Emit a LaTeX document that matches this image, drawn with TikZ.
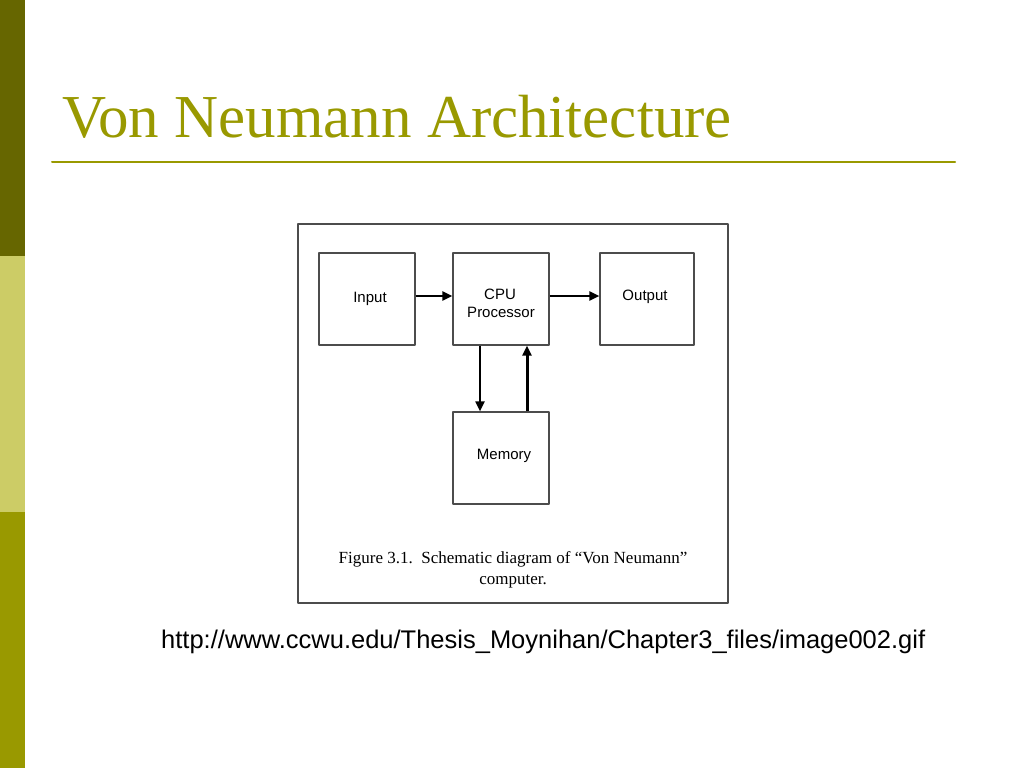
\documentclass[tikz,border=0pt]{standalone}
\usepackage{fontspec}
\setmainfont{Liberation Serif}
\newfontfamily\labelfont{Liberation Sans}
\usetikzlibrary{arrows.meta}
\definecolor{barDark}{HTML}{666600}
\definecolor{barLight}{HTML}{CCCC66}
\definecolor{barMid}{HTML}{999900}
\definecolor{titleCol}{HTML}{999900}

\begin{document}
\begin{tikzpicture}[line cap=round,line join=round,x=1pt,y=-1pt,
  blk/.style={draw=black!70,line width=1.2pt,minimum width=96pt,minimum height=92pt,inner sep=0pt},
  lbl/.style={anchor=base,inner sep=0pt,font=\labelfont\fontsize{15}{18}\selectfont},
  flow/.style={line width=2pt,line cap=butt,-{Triangle[length=10pt,width=9pt]}}]
\useasboundingbox (0,0) rectangle (1024,768);
% side bar
\fill [barDark] (0,0) rectangle (25,256);
\fill [barLight] (0,256) rectangle (25,512);
\fill [barMid] (0,512) rectangle (25,768);
% title
\node [anchor=base west,inner sep=0pt,text=titleCol,font=\fontsize{61}{70}\selectfont] (title) at (62,137) {Von Neumann Architecture};
\draw [titleCol,line width=2pt] (52,162) -- (955,162);
% figure frame
\draw [black!70,line width=1.2pt] (298,224) rectangle (728,603);
% blocks
\node [blk] (input) at (367,299) {};
\node [blk] (cpu) at (501,299) {};
\node [blk,minimum width=94pt] (output) at (647,299) {};
\node [blk] (memory) at (501,458) {};
\node [lbl] (inputtxt) at (370,302) {Input};
\node [lbl] (cputxt) at (500,299) {CPU};
\node [lbl] (proctxt) at (501,317) {Processor};
\node [lbl] (outputtxt) at (645,300) {Output};
\node [lbl] (memorytxt) at (504,459) {Memory};
% connectors
\draw [flow] ([yshift=3pt]input.east) -- ([yshift=3pt]cpu.west);
\draw [flow] ([yshift=3pt]cpu.east) -- ([yshift=3pt]output.west);
\draw [flow] ([xshift=-21pt]cpu.south) -- ([xshift=-21pt]memory.north);
\draw [flow,line width=3pt] ([xshift=26pt]memory.north) -- ([xshift=26pt]cpu.south);
% caption
\node [anchor=base,inner sep=0pt,align=center,font=\fontsize{17}{21}\selectfont] (caption) at (513,584)
  {Figure 3.1.\ \ Schematic diagram of “Von Neumann”\\computer.};
% source
\node [anchor=base west,inner sep=0pt,font=\labelfont\fontsize{25.5}{30}\selectfont] (source) at (161,648)
  {http://www.ccwu.edu/Thesis\_Moynihan/Chapter3\_files/image002.gif};
\end{tikzpicture}
\end{document}
